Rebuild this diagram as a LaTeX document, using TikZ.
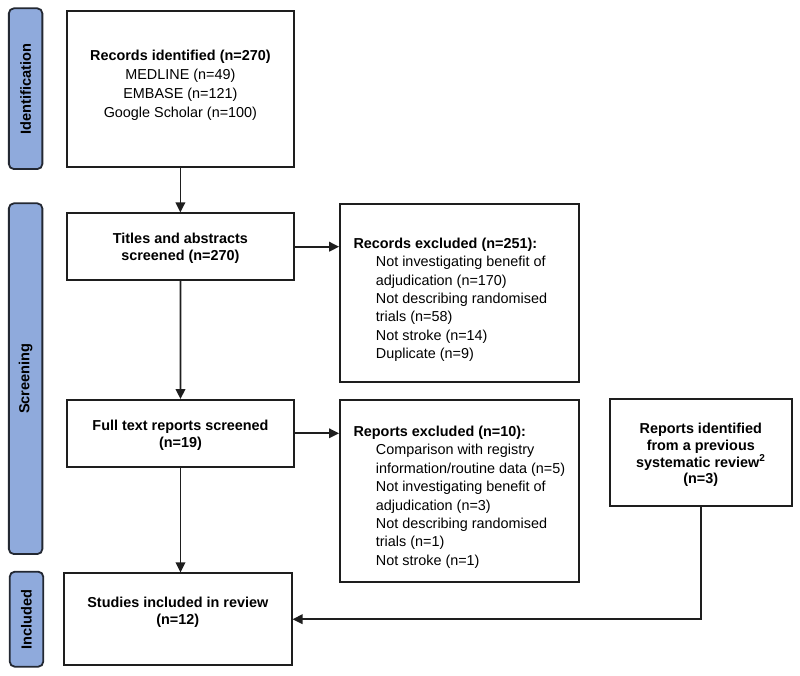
\documentclass[tikz,border=0pt]{standalone}
\usepackage{fontspec}
\setmainfont{Liberation Sans}
\usetikzlibrary{arrows.meta}
\definecolor{sideblue}{RGB}{143,170,220}
\definecolor{sideline}{RGB}{35,40,50}
\definecolor{boxline}{RGB}{30,30,30}
\begin{document}
\begin{tikzpicture}[x=1pt,y=-1pt,
  box/.style={draw=boxline, line width=1.8pt, fill=white, inner sep=0pt},
  sidebox/.style={draw=sideline, fill=sideblue, rounded corners=5pt, line width=1.8pt, inner sep=0pt},
  sidetxt/.style={rotate=90, font=\fontsize{14.6}{17}\selectfont\bfseries, inner sep=0pt},
  ctxt/.style={align=center, inner sep=0pt},
  ltxt/.style={align=left, inner sep=0pt, anchor=west, font=\fontsize{14.4}{18.4}\selectfont},
  arr/.style={draw=boxline, line width=1.8pt, -{Triangle[length=10pt,width=9.5pt]}},
  conn/.style={draw=boxline, line width=1.8pt}]
\useasboundingbox (0,0) rectangle (800,676);

% side labels
\node[sidebox, minimum width=33.5pt, minimum height=160.7pt] (sid) at (25.6,88.7) {};
\node[sidetxt] (sidt) at (sid) {Identification};
\node[sidebox, minimum width=33.5pt, minimum height=350.7pt] (sscr) at (25.6,378.7) {};
\node[sidetxt] (sscrt) at (sscr) {Screening};
\node[sidebox, minimum width=33.5pt, minimum height=95pt] (sinc) at (26.5,619.2) {};
\node[sidetxt] (sinct) at (sinc) {Included};

% boxes
\node[box, minimum width=227.4pt, minimum height=156pt] (rid) at (180.4,89) {};
\node[ctxt, font=\fontsize{14.4}{18.9}\selectfont] (ridt) at (180.4,85.5)
  {\textbf{Records identified (n=270)}\\MEDLINE (n=49)\\EMBASE (n=121)\\Google Scholar (n=100)};

\node[box, minimum width=227.4pt, minimum height=66.7pt] (tas) at (180.4,246.7) {};
\node[ctxt, font=\fontsize{14.4}{17.4}\selectfont\bfseries] (tast) at (180.4,248.5)
  {Titles and abstracts\\screened (n=270)};

\node[box, minimum width=227.6pt, minimum height=66.7pt] (full) at (180.5,433.3) {};
\node[ctxt, font=\fontsize{14.4}{17.4}\selectfont\bfseries] (fullt) at (180.5,435)
  {Full text reports screened\\(n=19)};

\node[box, minimum width=227.7pt, minimum height=91.7pt] (stud) at (177.8,619.2) {};
\node[ctxt, font=\fontsize{14.4}{17.2}\selectfont\bfseries] (studt) at (177.8,612)
  {Studies included in review\\(n=12)};

\node[box, minimum width=239.3pt, minimum height=177.7pt] (rex) at (459.7,292.9) {};
\node[ltxt] (rext) at (353.3,299.8)
  {\textbf{Records excluded (n=251):}\\
   \hspace*{22.4pt}Not investigating benefit of\\
   \hspace*{22.4pt}adjudication (n=170)\\
   \hspace*{22.4pt}Not describing randomised\\
   \hspace*{22.4pt}trials (n=58)\\
   \hspace*{22.4pt}Not stroke (n=14)\\
   \hspace*{22.4pt}Duplicate (n=9)};

\node[box, minimum width=239pt, minimum height=181.7pt] (rpx) at (459.5,490.8) {};
\node[ltxt] (rpxt) at (353.3,497.2)
  {\textbf{Reports excluded (n=10):}\\
   \hspace*{22.4pt}Comparison with registry\\
   \hspace*{22.4pt}information/routine data (n=5)\\
   \hspace*{22.4pt}Not investigating benefit of\\
   \hspace*{22.4pt}adjudication (n=3)\\
   \hspace*{22.4pt}Not describing randomised\\
   \hspace*{22.4pt}trials (n=1)\\
   \hspace*{22.4pt}Not stroke (n=1)};

\node[box, minimum width=181.7pt, minimum height=106.4pt] (rid2) at (700.8,452.5) {};
\node[ctxt, font=\fontsize{14.4}{16.7}\selectfont\bfseries] (rid2t) at (700.8,455)
  {Reports identified\\from a previous\\systematic review\textsuperscript{2}\\(n=3)};

% connectors
\draw[arr] (rid.south) -- (tas.north);
\draw[arr] (tas.south) -- (full.north);
\draw[arr] (full.south) -- (full.south |- stud.north);
\draw[arr] (tas.east) -- (tas.east -| rex.west);
\draw[arr] (full.east) -- (full.east -| rpx.west);
\draw[arr] (rid2.south) |- (stud.east);
\end{tikzpicture}
\end{document}
